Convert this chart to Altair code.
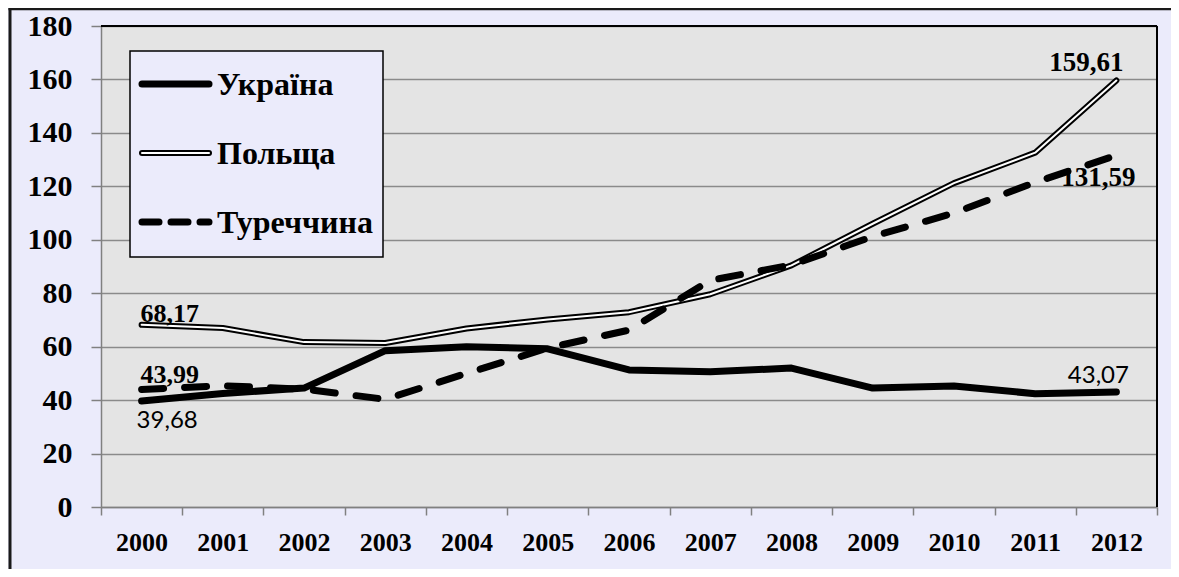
import altair as alt
import pandas as pd

# ---------------- data ----------------
years = [str(y) for y in range(2000, 2013)]
ukraine = [39.68, 42.5, 44.5, 58.5, 60.0, 59.2, 51.3, 50.6, 52.0, 44.5, 45.3, 42.4, 43.07]
poland = [68.17, 67.0, 61.7, 61.4, 66.8, 70.2, 72.9, 79.6, 90.4, 106.0, 121.2, 132.6, 159.61]
turkey = [43.99, 45.4, 44.1, 40.3, 50.0, 59.5, 66.2, 84.8, 90.6, 101.2, 110.0, 121.5, 131.59]
series_names = ["Україна", "Польща", "Туреччина"]

W, H = 1056, 481
PAD = {"left": 93, "top": 18, "right": 14, "bottom": 62}
SERIF = "Liberation Serif"
SANS = "Lato"
LAVENDER = "#EBEBFB"


def fmt(v):
    return f"{v:.2f}".replace(".", ",")


def frame(vals):
    return pd.DataFrame({"year": years, "value": vals})


df_ua, df_pl, df_tr = frame(ukraine), frame(poland), frame(turkey)

x_enc = alt.X(
    "year:O",
    scale=alt.Scale(type="band", paddingInner=0, paddingOuter=0),
    axis=alt.Axis(
        title=None, labelAngle=0, tickBand="extent", tickSize=8, tickColor="#808080",
        tickWidth=1.5, domainColor="#808080", domainWidth=1.5,
        labelFont=SERIF, labelFontWeight="bold", labelFontSize=26, labelColor="black",
        labelBaseline="alphabetic", labelPadding=35, grid=False,
    ),
)
y_enc = alt.Y(
    "value:Q",
    scale=alt.Scale(domain=[0, 180], nice=False, zero=True),
    axis=alt.Axis(
        title=None, values=list(range(0, 181, 20)), tickSize=10, tickColor="#808080",
        tickWidth=1.5, domainColor="#808080", domainWidth=1.5,
        labelFont=SERIF, labelFontWeight="bold", labelFontSize=30, labelColor="black",
        labelPadding=19, grid=True, gridColor="#8a8a8a", gridWidth=1.5,
    ),
)

line_kw = dict(strokeCap="round", strokeJoin="round")

pl_outer = alt.Chart(df_pl).mark_line(color="black", strokeWidth=6, **line_kw).encode(x=x_enc, y=y_enc)
pl_inner = alt.Chart(df_pl).mark_line(color="white", strokeWidth=2, **line_kw).encode(x=x_enc, y=y_enc)
ua_line = alt.Chart(df_ua).mark_line(color="black", strokeWidth=7, **line_kw).encode(x=x_enc, y=y_enc)
tr_line = alt.Chart(df_tr).mark_line(color="black", strokeWidth=7, strokeDash=[22, 21], **line_kw).encode(x=x_enc, y=y_enc)

# ---------------- value labels ----------------
def label(df, idx, font, weight, size, dx, dy, align="left"):
    d = df.iloc[[idx]].copy()
    d["txt"] = [fmt(v) for v in d["value"]]
    return alt.Chart(d).mark_text(
        font=font, fontWeight=weight, fontSize=size, color="black",
        align=align, baseline="alphabetic", dx=dx, dy=dy,
    ).encode(x=x_enc, y=y_enc, text="txt:N")

labels = [
    label(df_pl, 0, SERIF, "bold", 26, -1, -3),
    label(df_tr, 0, SERIF, "bold", 26, -1, -6),
    label(df_ua, 0, SANS, "normal", 24, -5, 27),
    label(df_pl, 12, SERIF, "bold", 27, -30, -9, align="center"),
    label(df_tr, 12, SERIF, "bold", 27, -18, 31, align="center"),
    label(df_ua, 12, SANS, "normal", 24, -18, -9, align="center"),
]

# ---------------- plot frame ----------------
one = pd.DataFrame({"k": [0]})
top_border = alt.Chart(one).mark_rule(color="black", strokeWidth=2).encode(
    x=alt.value(0), x2=alt.value(W), y=alt.value(0))
right_border = alt.Chart(one).mark_rule(color="black", strokeWidth=2).encode(
    x=alt.value(W), y=alt.value(0), y2=alt.value(H))
outer_left = alt.Chart(one).mark_rule(color="#1a1a1a", strokeWidth=3).encode(
    x=alt.value(-91), y=alt.value(-18), y2=alt.value(H + 62))
outer_top = alt.Chart(one).mark_rule(color="#1a1a1a", strokeWidth=2.5).encode(
    x=alt.value(-92.5), x2=alt.value(W + 14), y=alt.value(-17))

# ---------------- legend ----------------
LX0, LX1, LY0, LY1 = 29, 282, 25, 231
legend_box = alt.Chart(one).mark_rect(fill=LAVENDER, stroke="black", strokeWidth=1.5).encode(
    x=alt.value(LX0), x2=alt.value(LX1), y=alt.value(LY0), y2=alt.value(LY1))

legend_layers = [legend_box]
styles = [
    [dict(color="black", strokeWidth=7)],
    [dict(color="black", strokeWidth=6), dict(color="white", strokeWidth=2)],
    [dict(color="black", strokeWidth=7, strokeDash=[17, 12])],
]
for i, name in enumerate(series_names):
    ypix = 58 + i * 69
    d = pd.DataFrame({"name": [name]})
    for st in styles[i]:
        legend_layers.append(
            alt.Chart(d).mark_rule(strokeCap="round", **st).encode(
                x=alt.value(41), x2=alt.value(108), y=alt.value(ypix))
        )
    legend_layers.append(
        alt.Chart(d).mark_text(font=SERIF, fontWeight="bold", fontSize=32, color="black",
                               align="left", baseline="middle", dy=1).encode(
            x=alt.value(116), y=alt.value(ypix), text="name:N")
    )

chart = alt.layer(
    pl_outer, pl_inner, ua_line, tr_line, *labels,
    top_border, right_border, outer_left, outer_top, *legend_layers,
).properties(
    width=W, height=H, padding=PAD, autosize=alt.AutoSizeParams(type="none"),
).configure(background=LAVENDER).configure_view(fill="#E4E4E4", stroke=None)

chart.save("out.html", embed_options={"renderer": "svg", "actions": False})
